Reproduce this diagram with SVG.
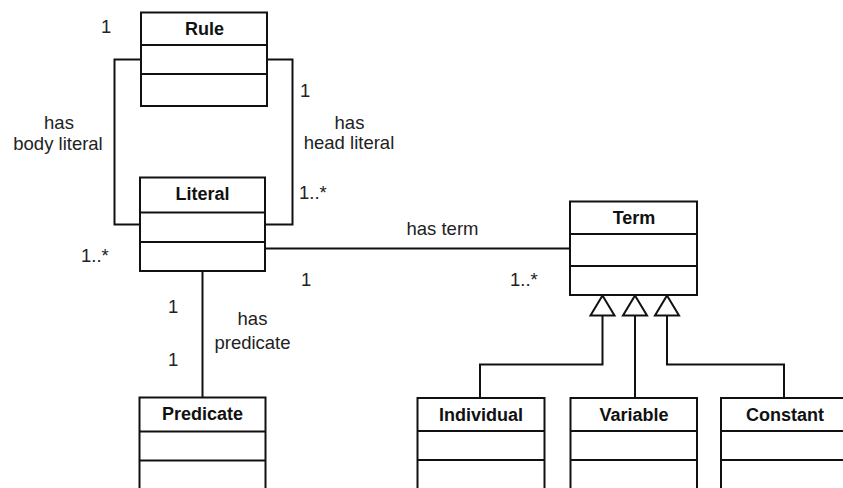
<svg xmlns="http://www.w3.org/2000/svg" width="843" height="488" viewBox="0 0 843 488">
  <style>
    .box { fill: #fff; stroke: #111; stroke-width: 2; }
    .sep { stroke: #111; stroke-width: 2; }
    .edge { fill: none; stroke: #111; stroke-width: 2; }
    .tri { fill: #fff; stroke: #111; stroke-width: 2; stroke-linejoin: miter; }
    .title { font-family: "Liberation Sans", Arial, sans-serif; font-size: 18px; font-weight: bold; fill: #111; text-anchor: middle; }
    .lbl { font-family: "Liberation Sans", Arial, sans-serif; font-size: 18.5px; fill: #222; }
    .mid { text-anchor: middle; }
  </style>
  <rect width="843" height="488" fill="#fff"/>

  <!-- associations and generalizations -->
  <g id="connectors">
    <path class="edge" d="M141,59.5 H114.5 V224.5 H140"/>
    <path class="edge" d="M267,59.5 H292.5 V224.5 H265"/>
    <path class="edge" d="M265,248.5 H570"/>
    <path class="edge" d="M202.5,271 V397.5"/>
    <path class="edge" d="M480,398 V364.5 H602.5 V315.5"/>
    <path class="edge" d="M635,398 V315.5"/>
    <path class="edge" d="M784,398 V364.5 H667 V315.5"/>
    <polygon class="tri" points="602.5,295.5 614.5,315.5 590.5,315.5"/>
    <polygon class="tri" points="635,295.5 647,315.5 623,315.5"/>
    <polygon class="tri" points="667,295.5 679,315.5 655,315.5"/>
  </g>

  <!-- association labels and multiplicities -->
  <g id="labels">
    <text class="lbl" x="101" y="32.5">1</text>
    <text class="lbl mid" x="59" y="128.5">has</text>
    <text class="lbl mid" x="58" y="149.5">body literal</text>
    <text class="lbl" x="300" y="97">1</text>
    <text class="lbl mid" x="349.5" y="129">has</text>
    <text class="lbl mid" x="349" y="148.5">head literal</text>
    <text class="lbl" x="299" y="199">1..*</text>
    <text class="lbl" x="81" y="262">1..*</text>
    <text class="lbl mid" x="442.5" y="235">has term</text>
    <text class="lbl" x="301" y="286">1</text>
    <text class="lbl" x="510" y="286">1..*</text>
    <text class="lbl" x="168" y="312.5">1</text>
    <text class="lbl" x="168" y="366">1</text>
    <text class="lbl mid" x="252.5" y="325">has</text>
    <text class="lbl mid" x="252.5" y="349">predicate</text>
  </g>

  <g id="rule">
    <rect class="box" x="141" y="12.5" width="126" height="93.5"/>
    <line class="sep" x1="141" y1="45" x2="267" y2="45"/>
    <line class="sep" x1="141" y1="74" x2="267" y2="74"/>
    <text class="title" x="204.5" y="34.5">Rule</text>
  </g>

  <g id="literal">
    <rect class="box" x="140" y="177.5" width="125" height="93.5"/>
    <line class="sep" x1="140" y1="212.5" x2="265" y2="212.5"/>
    <line class="sep" x1="140" y1="242" x2="265" y2="242"/>
    <text class="title" x="202.5" y="200">Literal</text>
  </g>

  <g id="term">
    <rect class="box" x="570" y="201.5" width="127" height="93.5"/>
    <line class="sep" x1="570" y1="234" x2="697" y2="234"/>
    <line class="sep" x1="570" y1="266" x2="697" y2="266"/>
    <text class="title" x="634" y="224">Term</text>
  </g>

  <g id="predicate">
    <rect class="box" x="139.5" y="397.5" width="126" height="100"/>
    <line class="sep" x1="139.5" y1="431.5" x2="265.5" y2="431.5"/>
    <line class="sep" x1="139.5" y1="460.5" x2="265.5" y2="460.5"/>
    <text class="title" x="202.5" y="420">Predicate</text>
  </g>

  <g id="individual">
    <rect class="box" x="417.5" y="398" width="127" height="100"/>
    <line class="sep" x1="417.5" y1="431" x2="544.5" y2="431"/>
    <line class="sep" x1="417.5" y1="460" x2="544.5" y2="460"/>
    <text class="title" x="481" y="420.5">Individual</text>
  </g>

  <g id="variable">
    <rect class="box" x="570.5" y="398" width="126.5" height="100"/>
    <line class="sep" x1="570.5" y1="431" x2="697" y2="431"/>
    <line class="sep" x1="570.5" y1="460" x2="697" y2="460"/>
    <text class="title" x="634" y="420.5">Variable</text>
  </g>

  <g id="constant">
    <rect class="box" x="721" y="398" width="126" height="100"/>
    <line class="sep" x1="721" y1="431" x2="847" y2="431"/>
    <line class="sep" x1="721" y1="460" x2="847" y2="460"/>
    <text class="title" x="785" y="420.5">Constant</text>
  </g>
</svg>
